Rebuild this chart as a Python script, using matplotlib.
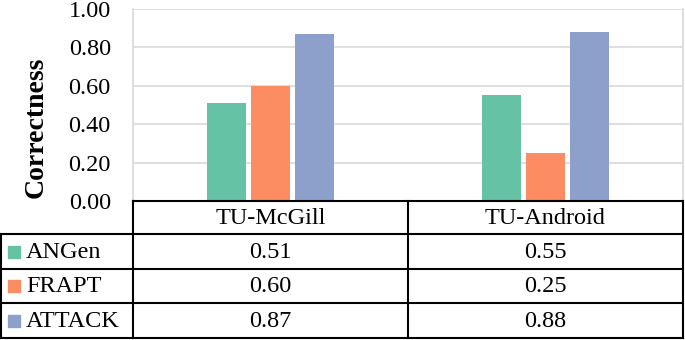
import matplotlib
matplotlib.use("Agg")
import matplotlib.pyplot as plt
from matplotlib.patches import Rectangle

categories = ["TU-McGill", "TU-Android"]
series_names = ["ANGen", "FRAPT", "ATTACK"]
angen = [0.51, 0.55]
frapt = [0.60, 0.25]
attack = [0.87, 0.88]
yticks = [0.00, 0.20, 0.40, 0.60, 0.80, 1.00]
colors = ["#66C2A5", "#FC8D62", "#8DA0CB"]

plt.rcParams["font.family"] = ["Liberation Serif", "DejaVu Serif"]

W, H = 685, 340
fig = plt.figure(figsize=(W / 100, H / 100), dpi=100)

# layout in pixels
ax_l, ax_r, ax_t, ax_b = 133, 683, 9, 201
ax = fig.add_axes([ax_l / W, 1 - ax_b / H, (ax_r - ax_l) / W, (ax_b - ax_t) / H])

series = [angen, frapt, attack]
width = 0.145
step = 0.16
for k, (vals, c) in enumerate(zip(series, colors)):
    xs = [i + (k - 1) * step for i in range(len(categories))]
    ax.bar(xs, vals, width=width, color=c, zorder=3)

ax.set_xlim(-0.5, len(categories) - 0.5)
ax.set_ylim(0, 1.0)
ax.set_yticks(yticks)
ax.set_yticklabels([f"{v:.2f}" for v in yticks], fontsize=17.5)
ax.set_xticks([])
ax.tick_params(axis="y", length=0, pad=16)
ax.grid(axis="y", color="#D9D9D9", linewidth=1.2, zorder=0)
for s in ["top", "bottom"]:
    ax.spines[s].set_visible(False)
for s in ["left", "right"]:
    ax.spines[s].set_color("#D9D9D9")
    ax.spines[s].set_linewidth(1.2)

fig.text(36 / W, 1 - 127 / H, "Correctness", rotation=90, ha="center", va="center",
         fontsize=20, fontweight="bold")

# table overlay
ov = fig.add_axes([0, 0, 1, 1], facecolor="none")
ov.set_xlim(0, W)
ov.set_ylim(H, 0)
ov.axis("off")

ncat = len(categories)
colw = (ax_r - ax_l) / ncat
col_x = [ax_l + i * colw for i in range(ncat + 1)]
rows_y = [201, 234, 269, 303, 338]
lw = 1.5
# header row
ov.plot([ax_l, ax_r], [rows_y[0], rows_y[0]], color="black", lw=lw)
for x in col_x:
    ov.plot([x, x], [rows_y[0], rows_y[-1]], color="black", lw=lw)
for y in rows_y[1:]:
    ov.plot([1, ax_r], [y, y], color="black", lw=lw)
ov.plot([1, 1], [rows_y[1], rows_y[-1]], color="black", lw=lw)

fs = 17.5
for i, cat in enumerate(categories):
    ov.text((col_x[i] + col_x[i + 1]) / 2, (rows_y[0] + rows_y[1]) / 2 + 1, cat,
            ha="center", va="center", fontsize=fs)

for r, (name, vals, c) in enumerate(zip(series_names, series, colors)):
    yc = (rows_y[r + 1] + rows_y[r + 2]) / 2
    ov.add_patch(Rectangle((8, yc - 6), 12, 12, color=c))
    ov.text(26, yc + 1, name, ha="left", va="center", fontsize=fs)
    for i, v in enumerate(vals):
        ov.text((col_x[i] + col_x[i + 1]) / 2, yc + 1, f"{v:.2f}",
                ha="center", va="center", fontsize=fs)

fig.savefig("out.png", dpi=100)
